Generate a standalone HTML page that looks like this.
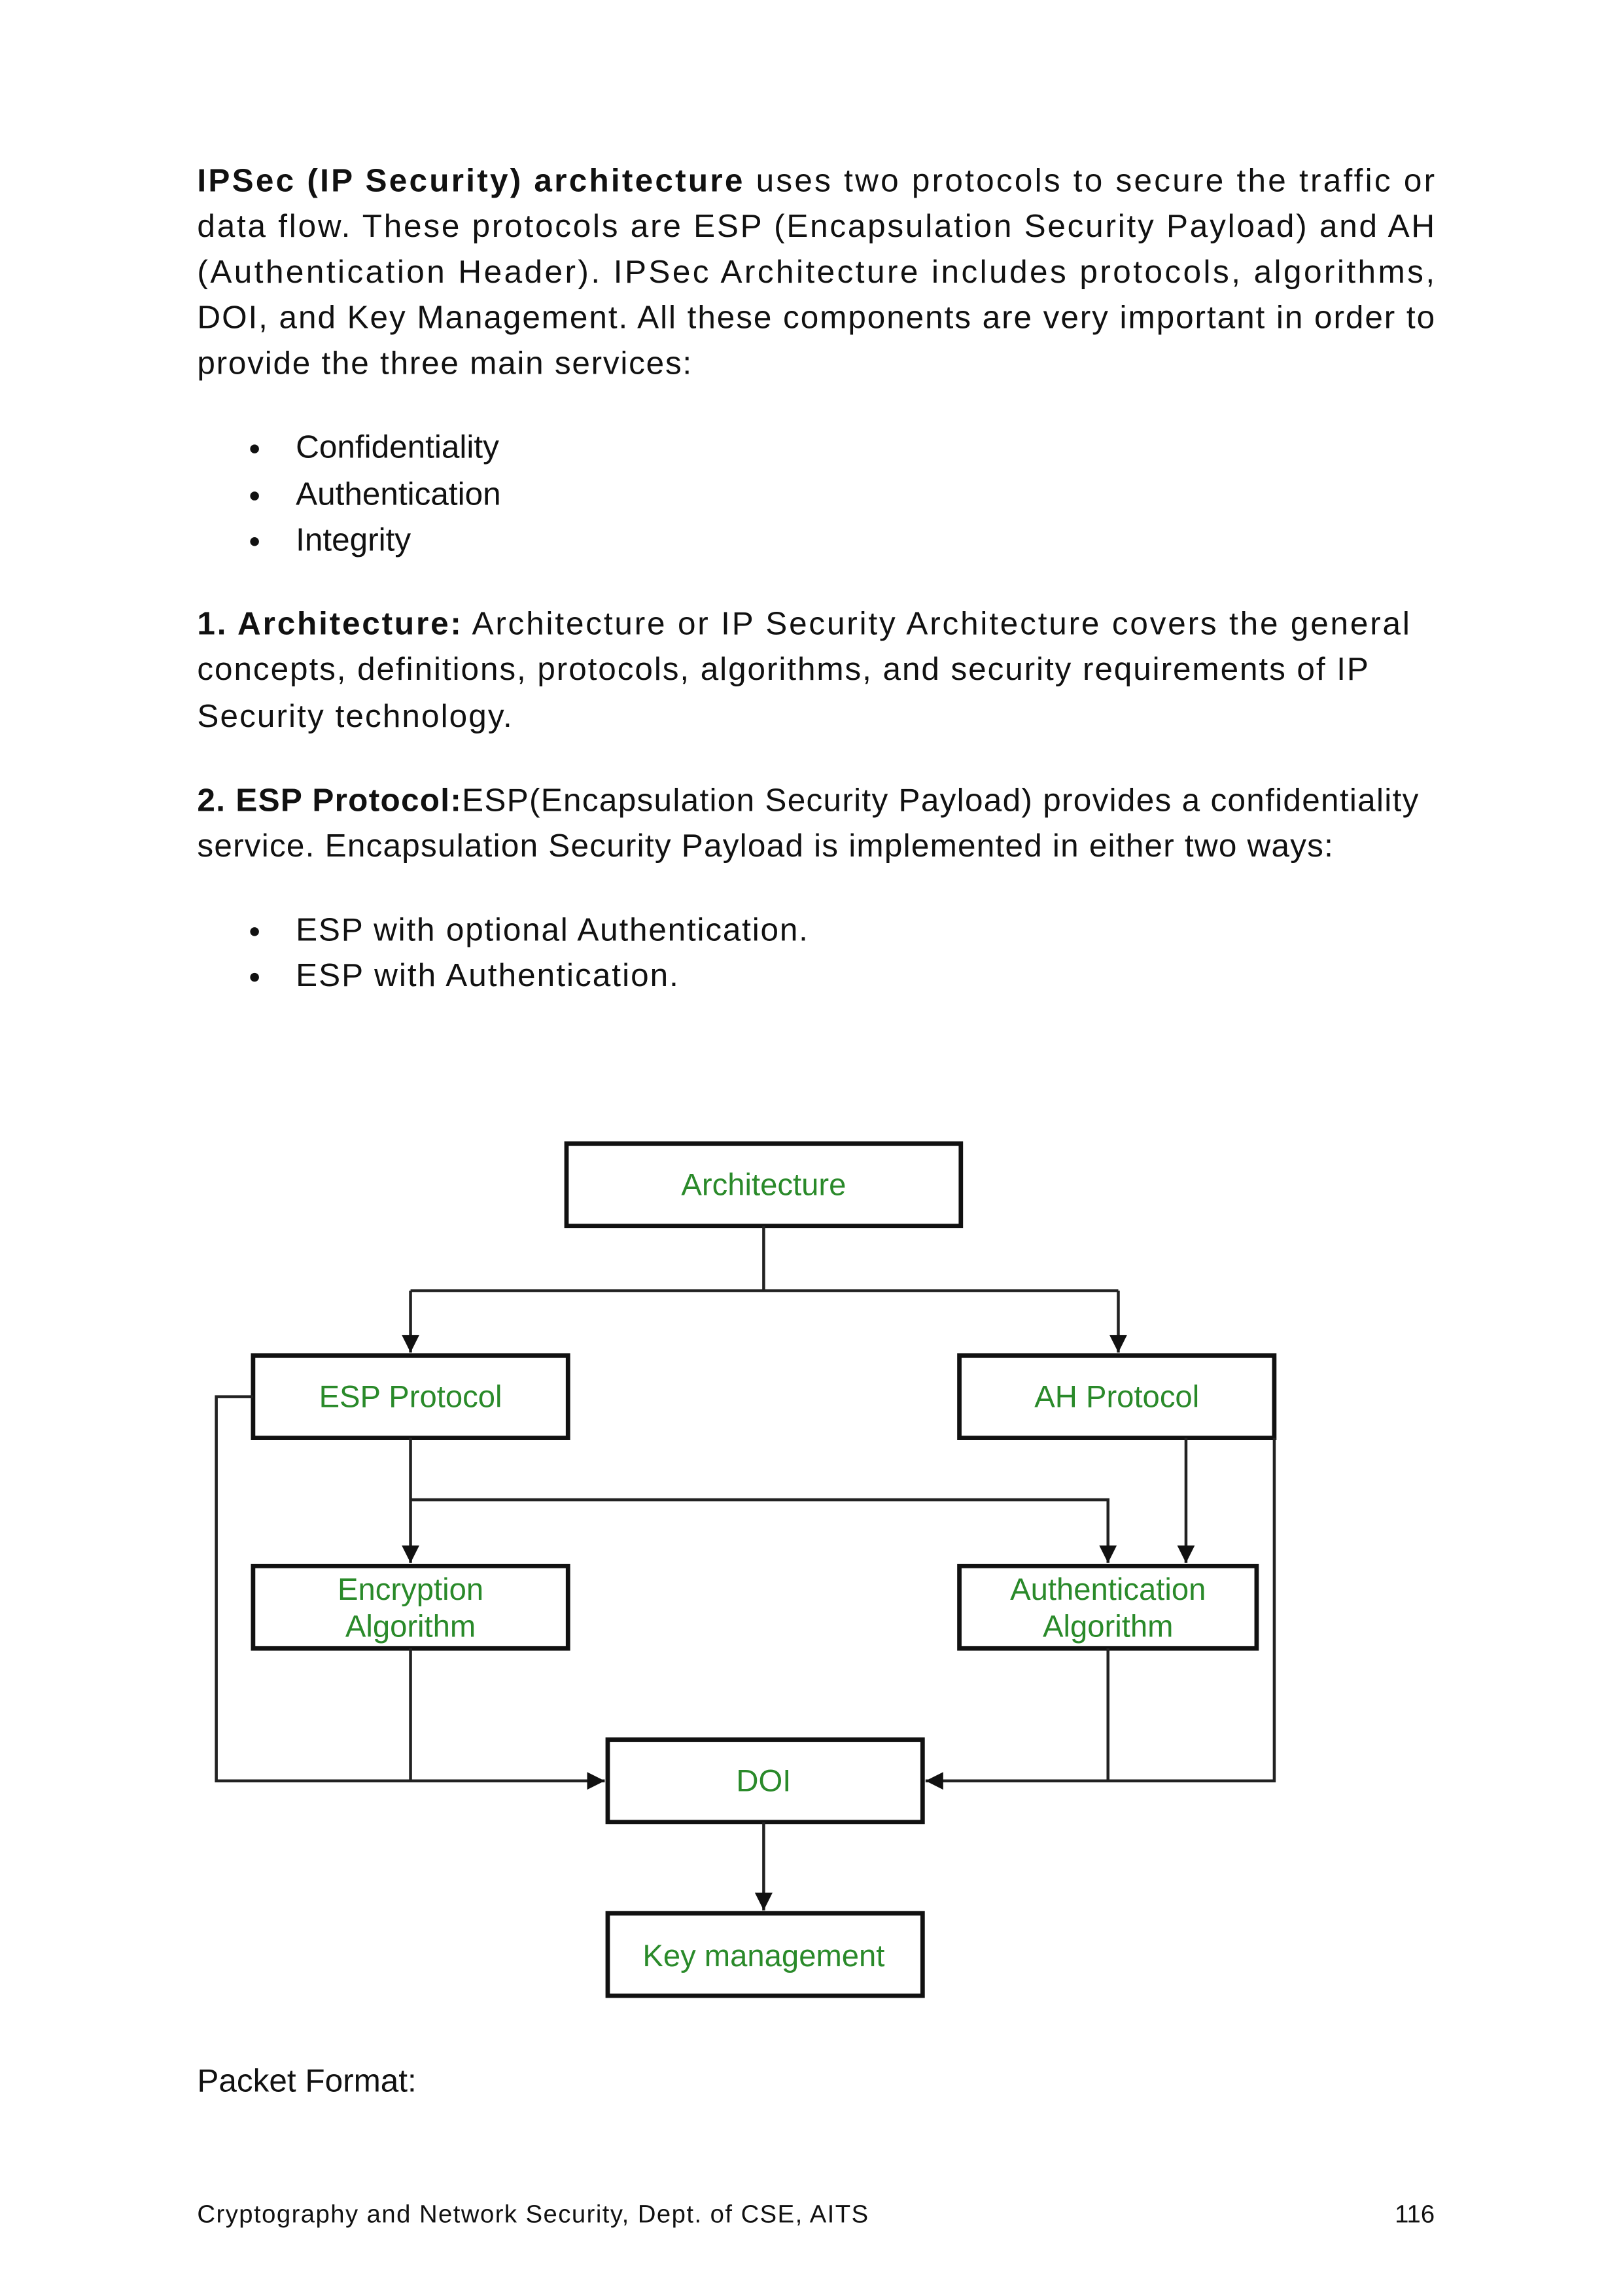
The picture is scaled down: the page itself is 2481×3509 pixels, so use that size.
<!DOCTYPE html>
<html><head><meta charset="utf-8"><style>
html,body{margin:0;padding:0;background:#fff;}
svg{display:block;}
.t{font-family:"Liberation Sans",sans-serif;font-size:22px;fill:#111;}
.b{font-weight:bold;}
.g{font-family:"Liberation Sans",sans-serif;font-size:21px;fill:#2a8a2a;text-anchor:middle;}
.f{font-family:"Liberation Sans",sans-serif;font-size:17px;fill:#111;}
</style></head><body>
<svg width="2481" height="3509" viewBox="0 0 1103 1560" xmlns="http://www.w3.org/2000/svg">
<rect width="1103" height="1560" fill="#fff"/>
<g class="t">
<text x="134" y="130" textLength="841" lengthAdjust="spacing"><tspan class="b">IPSec (IP Security) architecture</tspan> uses two protocols to secure the traffic or</text>
<text x="134" y="161" textLength="841" lengthAdjust="spacing">data flow. These protocols are ESP (Encapsulation Security Payload) and AH</text>
<text x="134" y="192" textLength="841" lengthAdjust="spacing">(Authentication Header). IPSec Architecture includes protocols, algorithms,</text>
<text x="134" y="223" textLength="841" lengthAdjust="spacing">DOI, and Key Management. All these components are very important in order to</text>
<text x="134" y="254" textLength="336" lengthAdjust="spacing">provide the three main services:</text>
<circle cx="173" cy="305" r="3" fill="#111"/><text x="201" y="311">Confidentiality</text>
<circle cx="173" cy="337" r="3" fill="#111"/><text x="201" y="343">Authentication</text>
<circle cx="173" cy="368" r="3" fill="#111"/><text x="201" y="374">Integrity</text>
<text x="134" y="431" textLength="824" lengthAdjust="spacing"><tspan class="b">1. Architecture:</tspan> Architecture or IP Security Architecture covers the general</text>
<text x="134" y="462" textLength="796" lengthAdjust="spacing">concepts, definitions, protocols, algorithms, and security requirements of IP</text>
<text x="134" y="494" textLength="214" lengthAdjust="spacing">Security technology.</text>
<text x="134" y="551" textLength="830" lengthAdjust="spacing"><tspan class="b">2. ESP Protocol:</tspan>ESP(Encapsulation Security Payload) provides a confidentiality</text>
<text x="134" y="582" textLength="772" lengthAdjust="spacing">service. Encapsulation Security Payload is implemented in either two ways:</text>
<circle cx="173" cy="633" r="3" fill="#111"/><text x="201" y="639" textLength="348" lengthAdjust="spacing">ESP with optional Authentication.</text>
<circle cx="173" cy="664" r="3" fill="#111"/><text x="201" y="670" textLength="260" lengthAdjust="spacing">ESP with Authentication.</text>
<text x="134" y="1421">Packet Format:</text>
</g>
<defs><marker id="a" viewBox="0 0 10 10" refX="10" refY="5" markerWidth="6" markerHeight="6" orient="auto"><path d="M0,0L10,5L0,10z" fill="#111"/></marker></defs>
<g fill="none" stroke="#111" stroke-width="3">
<rect x="385" y="777" width="268" height="56"/>
<rect x="172" y="921" width="214" height="56"/>
<rect x="652" y="921" width="214" height="56"/>
<rect x="172" y="1064" width="214" height="56"/>
<rect x="652" y="1064" width="202" height="56"/>
<rect x="413" y="1182" width="214" height="56"/>
<rect x="413" y="1300" width="214" height="56"/>
</g>
<g fill="none" stroke="#222" stroke-width="2">
<path d="M519,833V877M279,877H760"/>
<path d="M279,877V919" marker-end="url(#a)"/>
<path d="M760,877V919" marker-end="url(#a)"/>
<path d="M172,949H147V1210H411" marker-end="url(#a)"/>
<path d="M279,977V1062" marker-end="url(#a)"/>
<path d="M279,1019H753V1062" marker-end="url(#a)"/>
<path d="M806,977V1062" marker-end="url(#a)"/>
<path d="M866,977V1210H629" marker-end="url(#a)"/>
<path d="M279,1120V1210M753,1120V1210"/>
<path d="M519,1238V1298" marker-end="url(#a)"/>
</g>
<g class="g">
<text x="519" y="812">Architecture</text>
<text x="279" y="956">ESP Protocol</text>
<text x="759" y="956">AH Protocol</text>
<text x="279" y="1087">Encryption</text>
<text x="279" y="1112">Algorithm</text>
<text x="753" y="1087">Authentication</text>
<text x="753" y="1112">Algorithm</text>
<text x="519" y="1217">DOI</text>
<text x="519" y="1336">Key management</text>
</g>
<text class="f" x="134" y="1510" textLength="456" lengthAdjust="spacing">Cryptography and Network Security, Dept. of CSE, AITS</text>
<text class="f" x="975" y="1510" text-anchor="end">116</text>
</svg>
</body></html>
